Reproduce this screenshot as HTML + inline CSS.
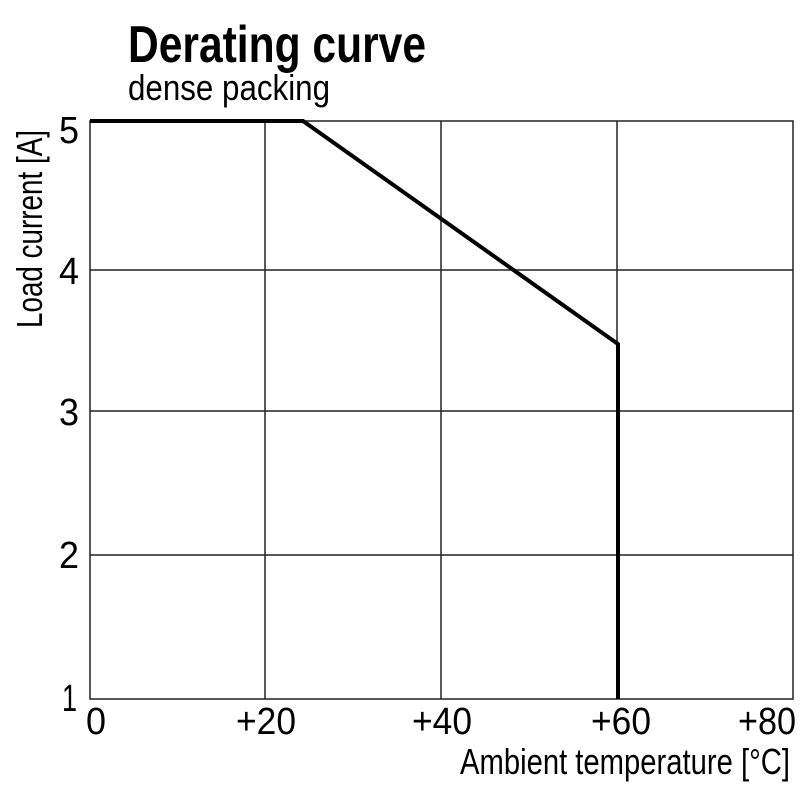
<!DOCTYPE html>
<html><head><style>body{margin:0;background:#fff}</style></head><body>
<svg width="800" height="800" xmlns="http://www.w3.org/2000/svg" font-family="Liberation Sans, sans-serif">
<rect width="800" height="800" fill="#fff"/>
<g stroke="#222" stroke-width="1.5" fill="none">
<rect x="90" y="121" width="703" height="578"/>
<line x1="265" y1="121" x2="265" y2="699"/>
<line x1="441" y1="121" x2="441" y2="699"/>
<line x1="617" y1="121" x2="617" y2="699"/>
<line x1="90" y1="270" x2="793" y2="270"/>
<line x1="90" y1="411" x2="793" y2="411"/>
<line x1="90" y1="555" x2="793" y2="555"/>
</g>
<polyline points="90,121 303,121 618,344 618,699" fill="none" stroke="#000" stroke-width="4"/>
<text x="128" y="62" font-size="52" font-weight="bold" textLength="298" lengthAdjust="spacingAndGlyphs">Derating curve</text>
<text x="128" y="100" font-size="36" textLength="202" lengthAdjust="spacingAndGlyphs">dense packing</text>
<g font-size="38">
<text x="59" y="143" textLength="20" lengthAdjust="spacingAndGlyphs">5</text>
<text x="59" y="284" textLength="20" lengthAdjust="spacingAndGlyphs">4</text>
<text x="59" y="425" textLength="20" lengthAdjust="spacingAndGlyphs">3</text>
<text x="59" y="568" textLength="20" lengthAdjust="spacingAndGlyphs">2</text>
<text x="62" y="711" textLength="15" lengthAdjust="spacingAndGlyphs">1</text>
<text x="86" y="734" textLength="20" lengthAdjust="spacingAndGlyphs">0</text>
<text x="236" y="734" textLength="60" lengthAdjust="spacingAndGlyphs">+20</text>
<text x="412" y="734" textLength="60" lengthAdjust="spacingAndGlyphs">+40</text>
<text x="591" y="734" textLength="60" lengthAdjust="spacingAndGlyphs">+60</text>
<text x="738" y="734" textLength="58" lengthAdjust="spacingAndGlyphs">+80</text>
</g>
<text x="460" y="774" font-size="36" textLength="330" lengthAdjust="spacingAndGlyphs">Ambient temperature [°C]</text>
<text transform="translate(42,328) rotate(-90)" font-size="36" textLength="198" lengthAdjust="spacingAndGlyphs">Load current [A]</text>
</svg>
</body></html>
